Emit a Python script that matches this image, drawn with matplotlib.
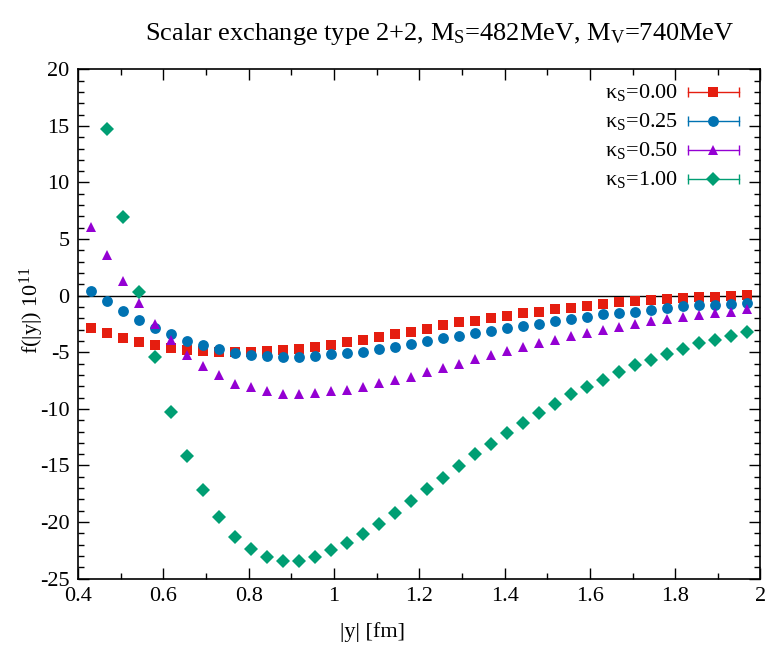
import matplotlib
matplotlib.use("Agg")
import matplotlib.pyplot as plt
from matplotlib.ticker import MultipleLocator

plt.rcParams['font.family'] = ['Liberation Serif', 'DejaVu Serif']
plt.rcParams['mathtext.fontset'] = 'custom'
plt.rcParams['mathtext.rm'] = 'Liberation Serif'
plt.rcParams['mathtext.default'] = 'regular'

# |y| in fm
y_fm = [0.4300, 0.4675, 0.5050, 0.5425, 0.5800, 0.6175, 0.6550, 0.6925,
        0.7300, 0.7675, 0.8050, 0.8425, 0.8800, 0.9175, 0.9550, 0.9925,
        1.0300, 1.0675, 1.1050, 1.1425, 1.1800, 1.2175, 1.2550, 1.2925,
        1.3300, 1.3675, 1.4050, 1.4425, 1.4800, 1.5175, 1.5550, 1.5925,
        1.6300, 1.6675, 1.7050, 1.7425, 1.7800, 1.8175, 1.8550, 1.8925,
        1.9300, 1.9675]

f_k000 = [-2.88, -3.32, -3.71, -4.06, -4.38, -4.65, -4.77, -4.91, -5.00, -5.00,
          -4.94, -4.89, -4.80, -4.71, -4.50, -4.35, -4.12, -3.92, -3.68, -3.41,
          -3.18, -2.97, -2.59, -2.35, -2.23, -2.00, -1.77, -1.53, -1.41, -1.17,
          -1.06, -0.91, -0.71, -0.56, -0.47, -0.38, -0.32, -0.23, -0.14, -0.11,
          0.00, 0.03]

f_k025 = [0.42, -0.50, -1.32, -2.15, -2.88, -3.41, -4.03, -4.38, -4.74, -5.09,
          -5.21, -5.33, -5.44, -5.44, -5.33, -5.18, -5.07, -4.94, -4.71, -4.50,
          -4.24, -4.00, -3.77, -3.56, -3.32, -3.09, -2.85, -2.71, -2.47, -2.24,
          -2.03, -1.88, -1.65, -1.53, -1.41, -1.29, -1.09, -0.94, -0.85, -0.82,
          -0.73, -0.62]

f_k050 = [6.10, 3.60, 1.33, -0.67, -2.47, -3.94, -5.27, -6.21, -7.03, -7.77,
          -8.07, -8.42, -8.68, -8.68, -8.57, -8.42, -8.33, -8.07, -7.74, -7.45,
          -7.15, -6.77, -6.39, -6.06, -5.56, -5.24, -4.89, -4.53, -4.15, -3.91,
          -3.56, -3.32, -3.00, -2.74, -2.50, -2.26, -2.06, -1.91, -1.68, -1.55,
          -1.44, -1.20]

# kappa_S = 1.00 starts at the second |y| point
f_k100 = [14.73, 6.95, 0.34, -5.44, -10.27, -14.13, -17.19, -19.55, -21.32,
          -22.40, -23.08, -23.44, -23.44, -23.08, -22.47, -21.87, -21.07, -20.14,
          -19.20, -18.14, -17.08, -16.13, -15.07, -14.01, -13.07, -12.16, -11.22,
          -10.39, -9.54, -8.71, -8.04, -7.42, -6.71, -6.15, -5.65, -5.18, -4.71,
          -4.21, -3.89, -3.56, -3.18]

labels = ['κ$_S$=0.00', 'κ$_S$=0.25', 'κ$_S$=0.50', 'κ$_S$=1.00']
colors = ['#e51e10', '#0072b2', '#9400d3', '#009e73']
markers = ['s', 'o', '^', 'D']
msizes = [7.8, 7.8, 7.8, 6.8]

series = [(y_fm, f_k000), (y_fm, f_k025), (y_fm, f_k050), (y_fm[1:], f_k100)]

fig = plt.figure(figsize=(7.68, 6.47), dpi=100)
ax = fig.add_axes([0.1016, 0.1056, 0.8886, 0.7873])

ax.axhline(0, color='black', lw=1.0, zorder=1)

for (xs, ys), c, m, ms in zip(series, colors, markers, msizes):
    ax.plot(xs, ys, ls='none', marker=m, color=c, ms=ms, mew=0, zorder=3)

ax.set_xlim(0.4, 2.0)
ax.set_ylim(-25, 20)
ax.xaxis.set_minor_locator(MultipleLocator(0.1))
ax.yaxis.set_minor_locator(MultipleLocator(1))
ax.set_xticks([0.4, 0.6, 0.8, 1.0, 1.2, 1.4, 1.6, 1.8, 2.0])
ax.set_xticklabels(['0.4', '0.6', '0.8', '1', '1.2', '1.4', '1.6', '1.8', '2'])
ax.set_yticks(range(-25, 21, 5))
ax.set_yticklabels([str(v) for v in range(-25, 21, 5)])
ax.tick_params(which='both', direction='in', top=True, right=True,
               labelsize=16, width=1.0)
ax.tick_params(which='major', length=8, pad=6)
ax.tick_params(which='minor', length=4)
for s in ax.spines.values():
    s.set_linewidth(1.2)

# legend drawn by hand, gnuplot style (error bar sample)
for i, (lab, c, m, ms) in enumerate(zip(labels, colors, markers, msizes)):
    yp = 92.3 + i * 29.0
    ya = 1 - (yp - 69.3) / 509.4
    ax.text(0.879, ya, lab, transform=ax.transAxes, ha='right', va='center',
            fontsize=16)
    ax.plot([0.894, 0.969], [ya, ya], color=c, lw=1.0, transform=ax.transAxes,
            clip_on=False)
    ax.plot([0.894, 0.969], [ya, ya], ls='none', marker='|', ms=7, mew=1.0,
            color=c, transform=ax.transAxes, clip_on=False)
    ax.plot([0.931], [ya], ls='none', marker=m, color=c, ms=ms, mew=0,
            transform=ax.transAxes, clip_on=False)

fig.text(440 / 768, 1 - 34 / 647,
         'Scalar exchange type 2+2, M$_S$=482MeV, M$_V$=740MeV',
         ha='center', va='center', fontsize=19)
fig.text(372 / 768, 1 - 632 / 647, '|y| [fm]', ha='center', va='center',
         fontsize=16)
fig.text(32 / 768, 1 - 311 / 647, 'f(|y|) 10$^{11}$', ha='center',
         va='center', rotation=90, fontsize=16)

fig.savefig('out.png', dpi=100)
